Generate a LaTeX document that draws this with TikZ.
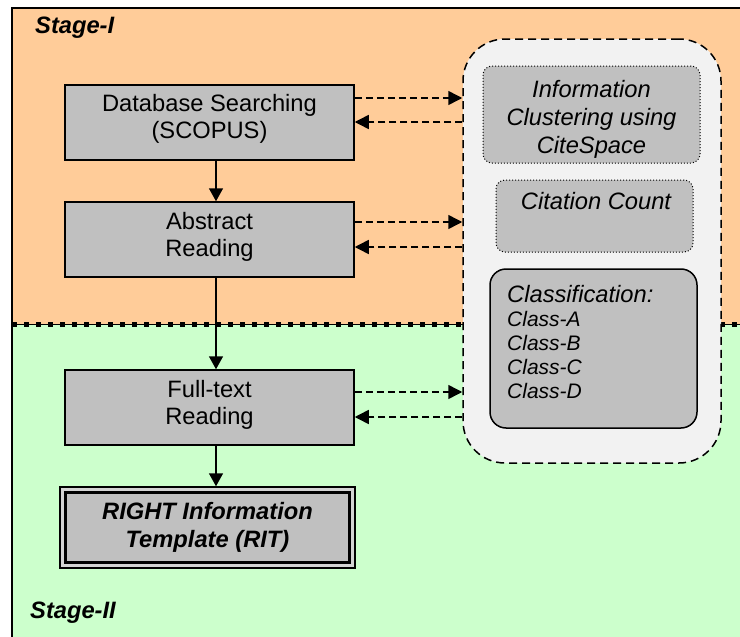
\documentclass[tikz,border=0pt]{standalone}
\usepackage{fontspec}
\setmainfont{Liberation Sans}
\usetikzlibrary{arrows.meta}
\definecolor{stageone}{HTML}{FFCC99}
\definecolor{stagetwo}{HTML}{CCFFCC}
\definecolor{boxgray}{HTML}{C0C0C0}
\definecolor{contgray}{HTML}{F2F2F2}
\tikzset{
  procbox/.style={draw, line width=1.5pt, fill=boxgray, minimum width=289pt, minimum height=75pt, inner sep=0pt},
  proclbl/.style={inner sep=0pt, align=center, font=\fontsize{23.7}{27}\selectfont},
  dotbox/.style={draw, line width=1pt, dotted, fill=boxgray, rounded corners=9pt, inner sep=0pt},
  itallbl/.style={inner sep=0pt, align=center, font=\fontsize{23.7}{28}\selectfont\itshape},
  solidarrow/.style={line width=1.5pt, -{Triangle[length=13pt,width=14pt]}},
  dasharrow/.style={line width=1.5pt, dash pattern=on 7pt off 4pt, -{Triangle[length=14pt,width=14pt]}},
  stagelabel/.style={font=\fontsize{23.7}{27}\selectfont\bfseries\itshape, anchor=base west, inner sep=0pt},
}
\begin{document}
\begin{tikzpicture}[x=1pt,y=-1pt]
\useasboundingbox (0,0) rectangle (740,637);
% stage backgrounds
\fill[stageone] (12,8) rectangle (745,324);
\fill[stagetwo] (12,324) rectangle (745,645);
\draw[line width=1.5pt] (12,645) -- (12,8) -- (745,8);
% boundary line between stages
\coordinate (bl) at (12,324);
\coordinate (br) at (745,324);
\draw[line width=1pt] (bl) -- (br);
\draw[line width=5pt, dash pattern=on 5pt off 7pt] (bl) -- (br);
% stage labels
\node[stagelabel] (s1) at (35,33) {Stage-I};
\node[stagelabel] (s2) at (30,618) {Stage-II};
% container
\node[draw, line width=1.5pt, dash pattern=on 8pt off 5pt, fill=contgray, rounded corners=42pt, minimum width=258pt, minimum height=424pt, inner sep=0pt] (cont) at (592,251) {};
% inner boxes
\node[dotbox, minimum width=217pt, minimum height=97pt] (info) at (591.5,114.5) {};
\node[itallbl] (infolbl) at (591.5,119.5) {Information\\Clustering using\\CiteSpace};
\node[dotbox, minimum width=197pt, minimum height=72pt] (cite) at (594.5,216) {};
\node[anchor=base, inner sep=0pt, font=\fontsize{23.7}{27}\selectfont\itshape] (citelbl) at (596,209) {Citation Count};
\node[draw, line width=1.5pt, fill=boxgray, rounded corners=16pt, minimum width=207pt, minimum height=159pt, inner sep=0pt] (class) at (593.5,348.5) {};
\node[anchor=north west, inner sep=0pt, align=left, font=\fontsize{21}{24}\selectfont\itshape] (classlbl) at (507,285.5)
  {{\fontsize{23.7}{24}\selectfont Classification:}\\Class-A\\Class-B\\Class-C\\Class-D};
% process boxes
\node[procbox] (db) at (209.5,122.5) {};
\node[proclbl] (dblbl) at (209.5,118.5) {Database Searching\\(SCOPUS)};
\node[procbox] (ab) at (209.5,239.5) {};
\node[proclbl] (ablbl) at (209.5,236.5) {Abstract\\Reading};
\node[procbox] (ft) at (209.5,407.5) {};
\node[proclbl] (ftlbl) at (209.5,405) {Full-text\\Reading};
% RIT double box
\node[draw, line width=1.5pt, fill=boxgray!70!white, minimum width=295pt, minimum height=81pt, inner sep=0pt] (ritout) at (207.5,527.5) {};
\node[draw, line width=2.5pt, fill=boxgray, minimum width=284pt, minimum height=70pt, inner sep=0pt, align=center, font=\fontsize{23.7}{28.5}\selectfont\bfseries\itshape] (rit) at (207.5,527.5) {RIGHT Information\\Template (RIT)};
% vertical arrows
\draw[solidarrow] (db.south -| 216,0) -- (ab.north -| 216,0);
\draw[solidarrow] (ab.south -| 216,0) -- (ft.north -| 216,0);
\draw[solidarrow] (ft.south -| 216,0) -- (ritout.north -| 216,0);
% dashed arrows
\draw[dasharrow] (db.east |- 0,98) -- (cont.west |- 0,98);
\draw[dasharrow] (cont.west |- 0,122) -- (db.east |- 0,122);
\draw[dasharrow] (ab.east |- 0,222) -- (cont.west |- 0,222);
\draw[dasharrow] (cont.west |- 0,247) -- (ab.east |- 0,247);
\draw[dasharrow] (ft.east |- 0,392) -- (cont.west |- 0,392);
\draw[dasharrow] (cont.west |- 0,417) -- (ft.east |- 0,417);
\end{tikzpicture}
\end{document}
